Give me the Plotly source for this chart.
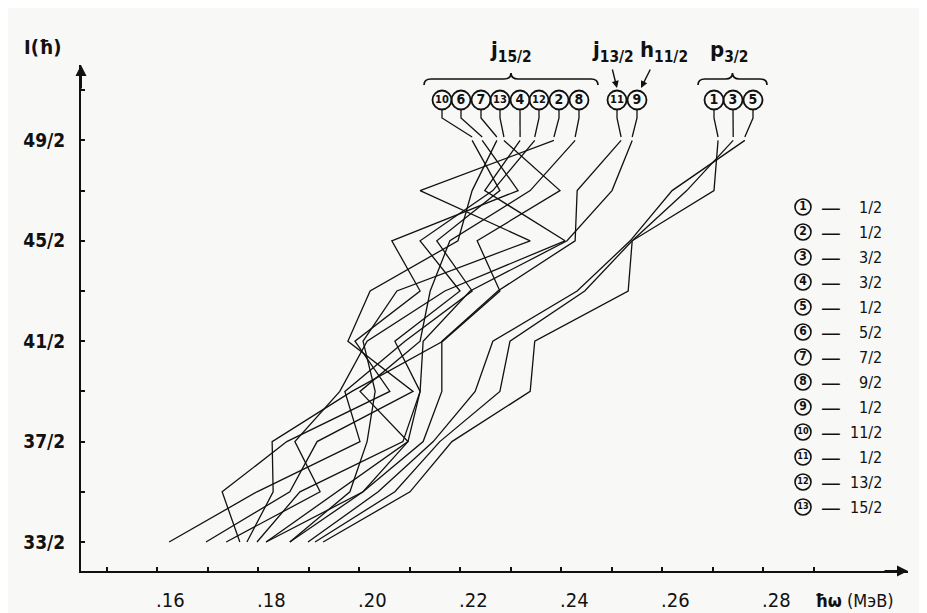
import plotly.graph_objects as go

# ---------------- data ----------------
SPINS = [16.5, 17.5, 18.5, 19.5, 20.5, 21.5, 22.5, 23.5, 24.5]
SPIN_TICKS = [16.5, 17.5, 18.5, 19.5, 20.5, 21.5, 22.5, 23.5, 24.5, 25.5]
SPIN_TICK_LABELS = ["33/2", "", "37/2", "", "41/2", "", "45/2", "", "49/2", ""]
OMEGA_TICKS = [0.15, 0.16, 0.17, 0.18, 0.19, 0.20, 0.21, 0.22, 0.23, 0.24, 0.25, 0.26, 0.27, 0.28, 0.29]
OMEGA_LABEL_VALUES = [0.16, 0.18, 0.20, 0.22, 0.24, 0.26, 0.28]
OMEGA_LABELS = [".16", ".18", ".20", ".22", ".24", ".26", ".28"]

# hbar*omega (MeV) for each band, I = 33/2 ... 49/2
omega_10 = [0.1624, 0.1798, 0.2002, 0.1972, 0.2091, 0.2224, 0.2154, 0.2279, 0.2224]
omega_6 = [0.1764, 0.1729, 0.1857, 0.2061, 0.1992, 0.2121, 0.2065, 0.2315, 0.2244]
omega_7 = [0.1697, 0.1863, 0.1917, 0.2107, 0.1978, 0.2022, 0.2196, 0.2224, 0.2273]
omega_13 = [0.1778, 0.1830, 0.1828, 0.1986, 0.2166, 0.2279, 0.2234, 0.2398, 0.2287]
omega_4 = [0.1737, 0.1923, 0.1873, 0.1962, 0.2016, 0.2170, 0.2408, 0.2249, 0.2319]
omega_12 = [0.1798, 0.1883, 0.2087, 0.2121, 0.2071, 0.2200, 0.2121, 0.2265, 0.2348]
omega_2 = [0.1863, 0.1982, 0.2016, 0.2032, 0.2008, 0.2075, 0.2339, 0.2121, 0.2386]
omega_8 = [0.1816, 0.2008, 0.2097, 0.2002, 0.2121, 0.2141, 0.2180, 0.2339, 0.2428]
omega_11 = [0.1863, 0.2008, 0.2127, 0.2164, 0.2164, 0.2275, 0.2428, 0.2432, 0.2519]
omega_9 = [0.1816, 0.1956, 0.2097, 0.2121, 0.2127, 0.2220, 0.2412, 0.2501, 0.2541]
omega_p1 = [0.1929, 0.2101, 0.2184, 0.2339, 0.2348, 0.2533, 0.2541, 0.2703, 0.2711]
omega_p3 = [0.1913, 0.2071, 0.2160, 0.2279, 0.2299, 0.2447, 0.2541, 0.2649, 0.2741]
omega_p5 = [0.1899, 0.2038, 0.2147, 0.2230, 0.2265, 0.2432, 0.2537, 0.2620, 0.2764]

BAND_NUMBERS = ["10", "6", "7", "13", "4", "12", "2", "8", "11", "9", "1", "3", "5"]
BAND_SERIES = [omega_10, omega_6, omega_7, omega_13, omega_4, omega_12, omega_2, omega_8,
               omega_11, omega_9, omega_p1, omega_p3, omega_p5]

LEGEND_NUMBERS = ["1", "2", "3", "4", "5", "6", "7", "8", "9", "10", "11", "12", "13"]
LEGEND_K = ["1/2", "1/2", "3/2", "3/2", "1/2", "5/2", "7/2", "9/2", "1/2", "11/2", "1/2", "13/2", "15/2"]

# ---------------- layout helpers (screen-pixel positions of decorations) ----------------
# the page body adds an 8 px offset, so the figure is 8 px smaller and margins are reduced
OFF = 8
W, H = 927 - OFF, 613 - OFF
L, R, T, B = 81 - OFF, 19, 65 - OFF, 42
PLOT_W = W - L - R
PLOT_H = H - T - B
PLOT_LEFT, PLOT_BOTTOM = 81, 571


def px2x(px):
    return 0.16 + (px - 157) / 5050.0


def py2y(py):
    return 16.5 + (542 - py) / 50.2


def pxp(px):
    return (px - PLOT_LEFT) / PLOT_W


def pyp(py):
    return (PLOT_BOTTOM - py) / PLOT_H


INK = "#111111"
FONT = "DejaVu Sans Condensed, DejaVu Sans"
LABEL_PX = [442, 461, 481, 500, 520, 539, 559, 579, 617, 637, 714, 733, 753]
LABEL_PY = 100

fig = go.Figure()

# band curves
for num, series in zip(BAND_NUMBERS, BAND_SERIES):
    fig.add_trace(go.Scatter(x=series, y=SPINS, mode="lines",
                             line=dict(color=INK, width=1.3), hoverinfo="skip",
                             showlegend=False, name=num))

# leader lines from circled labels to the top point of each curve
for lpx, series in zip(LABEL_PX, BAND_SERIES):
    fig.add_trace(go.Scatter(x=[px2x(lpx), px2x(lpx), series[-1]],
                             y=[py2y(110), py2y(118), py2y(137)],
                             mode="lines", line=dict(color=INK, width=1.3),
                             hoverinfo="skip", showlegend=False))

# circled labels
fig.add_trace(go.Scatter(
    x=[px2x(p) for p in LABEL_PX], y=[py2y(LABEL_PY)] * len(LABEL_PX),
    mode="markers+text", text=["<b>" + n + "</b>" for n in BAND_NUMBERS], textposition="middle center",
    textfont=dict(family=FONT, size=[11 if len(n) > 1 else 14 for n in BAND_NUMBERS], color=INK),
    marker=dict(symbol="circle", size=19, color="rgba(0,0,0,0)", line=dict(color=INK, width=1.8)),
    hoverinfo="skip", showlegend=False, cliponaxis=False))

# legend on the right
LEG_Y = [207 + i * 25 for i in range(len(LEGEND_NUMBERS))]
fig.add_trace(go.Scatter(
    x=[px2x(803)] * len(LEGEND_NUMBERS), y=[py2y(v) for v in LEG_Y],
    mode="markers+text", text=["<b>" + n + "</b>" for n in LEGEND_NUMBERS], textposition="middle center",
    textfont=dict(family=FONT, size=[9 if len(n) > 1 else 12 for n in LEGEND_NUMBERS], color=INK),
    marker=dict(symbol="circle", size=16, color="rgba(0,0,0,0)", line=dict(color=INK, width=1.6)),
    hoverinfo="skip", showlegend=False, cliponaxis=False))

annotations = []
for k, yy in zip(LEGEND_K, LEG_Y):
    annotations.append(dict(x=px2x(831), y=py2y(yy), xref="x", yref="y", text="—",
                            showarrow=False, font=dict(family=FONT, size=22, color=INK)))
    annotations.append(dict(x=px2x(884), y=py2y(yy), xref="x", yref="y", text=k, xanchor="right",
                            showarrow=False, font=dict(family=FONT, size=16, color=INK)))

# x tick labels (left edge at the tick)
for v, t in zip(OMEGA_LABEL_VALUES, OMEGA_LABELS):
    annotations.append(dict(x=v, y=pyp(600), xref="x", yref="paper", text=t,
                            xanchor="left", yanchor="middle", xshift=-3, showarrow=False,
                            font=dict(family=FONT, size=20, color=INK)))

# axis titles
annotations.append(dict(x=pxp(813), y=pyp(600), xref="paper", yref="paper",
                        text="<b>ħω</b> (МэВ)", xanchor="left", yanchor="middle", showarrow=False,
                        font=dict(family=FONT, size=18, color=INK)))
annotations.append(dict(x=pxp(42), y=pyp(47), xref="paper", yref="paper",
                        text="<b>I(ħ)</b>", xanchor="center", yanchor="middle", showarrow=False,
                        font=dict(family=FONT, size=20, color=INK)))

# group labels
for txt, cx in [("j<sub>15/2</sub>", 511), ("j<sub>13/2</sub>", 613), ("h<sub>11/2</sub>", 664),
                ("p<sub>3/2</sub>", 729)]:
    annotations.append(dict(x=pxp(cx), y=pyp(52), xref="paper", yref="paper",
                            text="<b>" + txt + "</b>", xanchor="center", yanchor="middle", showarrow=False,
                            font=dict(family=FONT, size=22, color=INK)))

# small arrows from j13/2 and h11/2 to their circles
for hx, hy, tx, ty in [(617, 88, 612, 68), (641, 88, 651, 68)]:
    annotations.append(dict(x=px2x(hx), y=py2y(hy), xref="x", yref="y", ax=tx - hx, ay=ty - hy,
                            text="", showarrow=True, arrowhead=2, arrowsize=1, arrowwidth=1.4,
                            arrowcolor=INK))

# axis arrowheads
annotations.append(dict(x=1.0, y=0, xref="paper", yref="paper", ax=-25, ay=0, text="",
                        showarrow=True, arrowhead=2, arrowsize=1.1, arrowwidth=2, arrowcolor=INK))
annotations.append(dict(x=0, y=1.0, xref="paper", yref="paper", ax=0, ay=25, text="",
                        showarrow=True, arrowhead=2, arrowsize=1.1, arrowwidth=2, arrowcolor=INK))


def brace_path(x0, x1, yb, ytop):
    xm = (x0 + x1) / 2.0
    pts = [
        ("M", [(x0, yb + 6)]),
        ("Q", [(x0, yb), (x0 + 7, yb)]),
        ("L", [(xm - 7, yb)]),
        ("Q", [(xm, yb), (xm, ytop)]),
        ("Q", [(xm, yb), (xm + 7, yb)]),
        ("L", [(x1 - 7, yb)]),
        ("Q", [(x1, yb), (x1, yb + 6)]),
    ]
    s = ""
    for cmd, ps in pts:
        s += cmd + " " + " ".join(f"{px2x(a):.6f},{py2y(b):.6f}" for a, b in ps) + " "
    return s.strip()


shapes = [
    dict(type="path", xref="x", yref="y", path=brace_path(424, 598, 79, 73),
         line=dict(color=INK, width=1.7)),
    dict(type="path", xref="x", yref="y", path=brace_path(698, 767, 79, 73),
         line=dict(color=INK, width=1.7)),
]

fig.update_layout(
    width=W, height=H,
    margin=dict(l=L, r=R, t=T, b=B, pad=0),
    paper_bgcolor="#f8f8f6", plot_bgcolor="#f8f8f6",
    showlegend=False,
    annotations=annotations,
    shapes=shapes,
    xaxis=dict(range=[px2x(PLOT_LEFT), px2x(PLOT_LEFT + PLOT_W)], showgrid=False, zeroline=False,
               showline=True, linecolor=INK, linewidth=2,
               tickmode="array", tickvals=OMEGA_TICKS, ticktext=[""] * len(OMEGA_TICKS),
               ticks="inside", ticklen=4, tickwidth=1.5, tickcolor=INK),
    yaxis=dict(range=[py2y(PLOT_BOTTOM), py2y(PLOT_BOTTOM - PLOT_H)], showgrid=False, zeroline=False,
               showline=True, linecolor=INK, linewidth=2,
               tickmode="array", tickvals=SPIN_TICKS, ticktext=SPIN_TICK_LABELS,
               ticks="inside", ticklen=4, tickwidth=1.5, tickcolor=INK,
               ticklabelstandoff=10,
               tickfont=dict(family=FONT, size=19, color=INK, weight="bold")),
)

fig.write_html("out.html")
